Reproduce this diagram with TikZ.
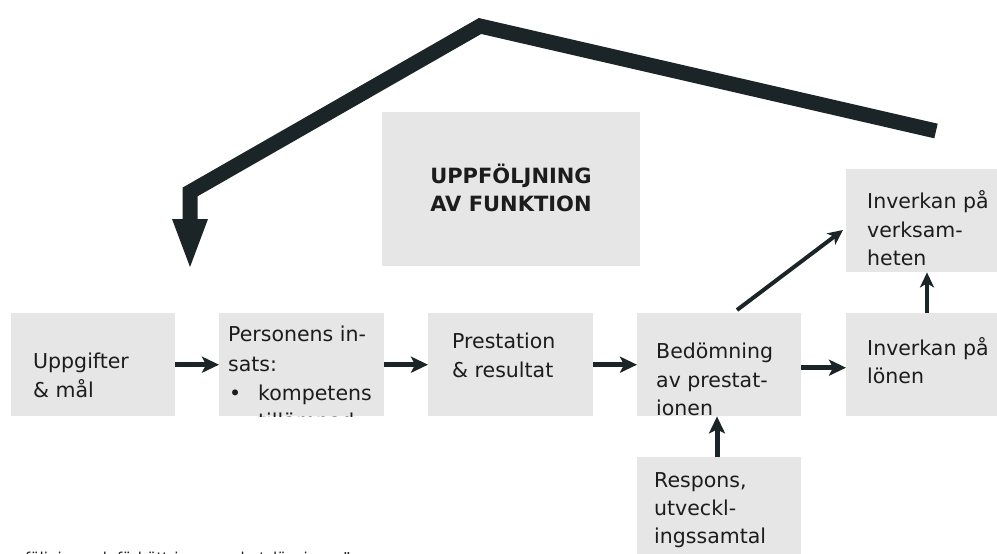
\documentclass[tikz,border=0pt]{standalone}
\usepackage{fontspec}
\setmainfont{DejaVu Sans}
\usetikzlibrary{arrows.meta}
\definecolor{boxgray}{HTML}{E6E6E6}
\definecolor{arrowdark}{HTML}{1B2427}
\definecolor{txt}{HTML}{1C1C1C}
\begin{document}
\begin{tikzpicture}[x=1pt,y=-1pt,
  box/.style={fill=boxgray,draw=none,inner sep=0pt,anchor=north west},
  lbl/.style={anchor=base west,inner sep=0pt,text=txt,font=\fontsize{20.5}{24}\selectfont},
  small/.style={anchor=base west,inner sep=0pt,text=txt,font=\fontsize{15}{18}\selectfont},
  flow/.style={draw=arrowdark,line width=5pt,-{Stealth[length=17pt,width=16pt,inset=4pt]}},
  thinflow/.style={draw=arrowdark,line width=4pt,-{Stealth[length=15pt,width=14pt,inset=4pt]}},
  big/.style={draw=arrowdark,line width=15pt,miter limit=10,line join=miter}
]
\useasboundingbox (0,0) rectangle (997,554);
\clip (0,0) rectangle (997,554);

% boxes
\node[box,minimum width=164pt,minimum height=103pt] (b1) at (11,313) {};
\node[box,minimum width=165pt,minimum height=103pt] (b2) at (219,313) {};
\node[box,minimum width=165pt,minimum height=103pt] (b3) at (428,313) {};
\node[box,minimum width=164pt,minimum height=103pt] (b4) at (637,313) {};
\node[box,minimum width=160pt,minimum height=103pt] (b5) at (846,313) {};
\node[box,minimum width=164pt,minimum height=100pt] (b6) at (637,457) {};
\node[box,minimum width=160pt,minimum height=103pt] (b7) at (846,169) {};
\node[box,minimum width=258pt,minimum height=154pt] (bu) at (382,112) {};

% texts
\node[lbl] (t1a) at (33,368) {Uppgifter};
\node[lbl] (t1b) at (33,397) {\& mål};

\begin{scope}
\clip (219,313) rectangle (384,416);
\node[lbl] (t2a) at (228,341) {Personens in-};
\node[lbl] (t2b) at (228,371) {sats:};
\node[lbl] (t2c) at (229,400) {•};
\node[lbl] (t2d) at (258,400) {kompetens};
\node[lbl] (t2e) at (258,428) {tillämpad};
\end{scope}

\node[lbl] (t3a) at (452,348) {Prestation};
\node[lbl] (t3b) at (452,377) {\& resultat};

\node[lbl] (t4a) at (656,358) {Bedömning};
\node[lbl] (t4b) at (656,387) {av prestat-};
\node[lbl] (t4c) at (656,415) {ionen};

\node[lbl] (t5a) at (867,355) {Inverkan på};
\node[lbl] (t5b) at (867,383) {lönen};

\node[lbl] (t6a) at (654,487) {Respons,};
\node[lbl] (t6b) at (654,515) {utveckl-};
\node[lbl] (t6c) at (654,543) {ingssamtal};

\node[lbl] (t7a) at (867,208) {Inverkan på};
\node[lbl] (t7b) at (867,237) {verksam-};
\node[lbl] (t7c) at (867,265) {heten};

\node[anchor=base,inner sep=0pt,text=txt,align=center,font=\bfseries\fontsize{21}{28}\selectfont] (tu1) at (511,183) {UPPFÖLJNING};
\node[anchor=base,inner sep=0pt,text=txt,align=center,font=\bfseries\fontsize{21}{28}\selectfont] (tu2) at (511,211) {AV FUNKTION};

\node[small] (tbot) at (25,563) {följning och förbättring av arbetslösningar”};

% flow arrows
\draw[flow] (b1.east) -- (b2.west);
\draw[flow] (b2.east) -- (b3.west);
\draw[flow] (b3.east) -- (b4.west);
\draw[flow] ([yshift=-3pt]b4.east) -- ([yshift=-3pt]b5.west);
\draw[flow] ([xshift=80pt]b6.north west) -- ([xshift=80pt]b4.south west);
\draw[thinflow] ([xshift=100pt,yshift=3pt]b4.north west) -- ([xshift=-3pt,yshift=-61pt]b7.north west);
\draw[thinflow] ([xshift=81pt]b5.north west) -- ([xshift=81pt]b7.south west);

% big feedback arrow
\coordinate (bs) at (936,131);
\coordinate (bp) at (480,26);
\coordinate (bl) at (190,192);
\coordinate (bv) at (190,219);
\coordinate (btip) at (190,267);
\draw[big] (bs) -- (bp) -- (bl) -- (bv);
\fill[arrowdark] ([xshift=-18pt]bv) -- ([xshift=18pt]bv) -- (btip) -- cycle;
\end{tikzpicture}
\end{document}
